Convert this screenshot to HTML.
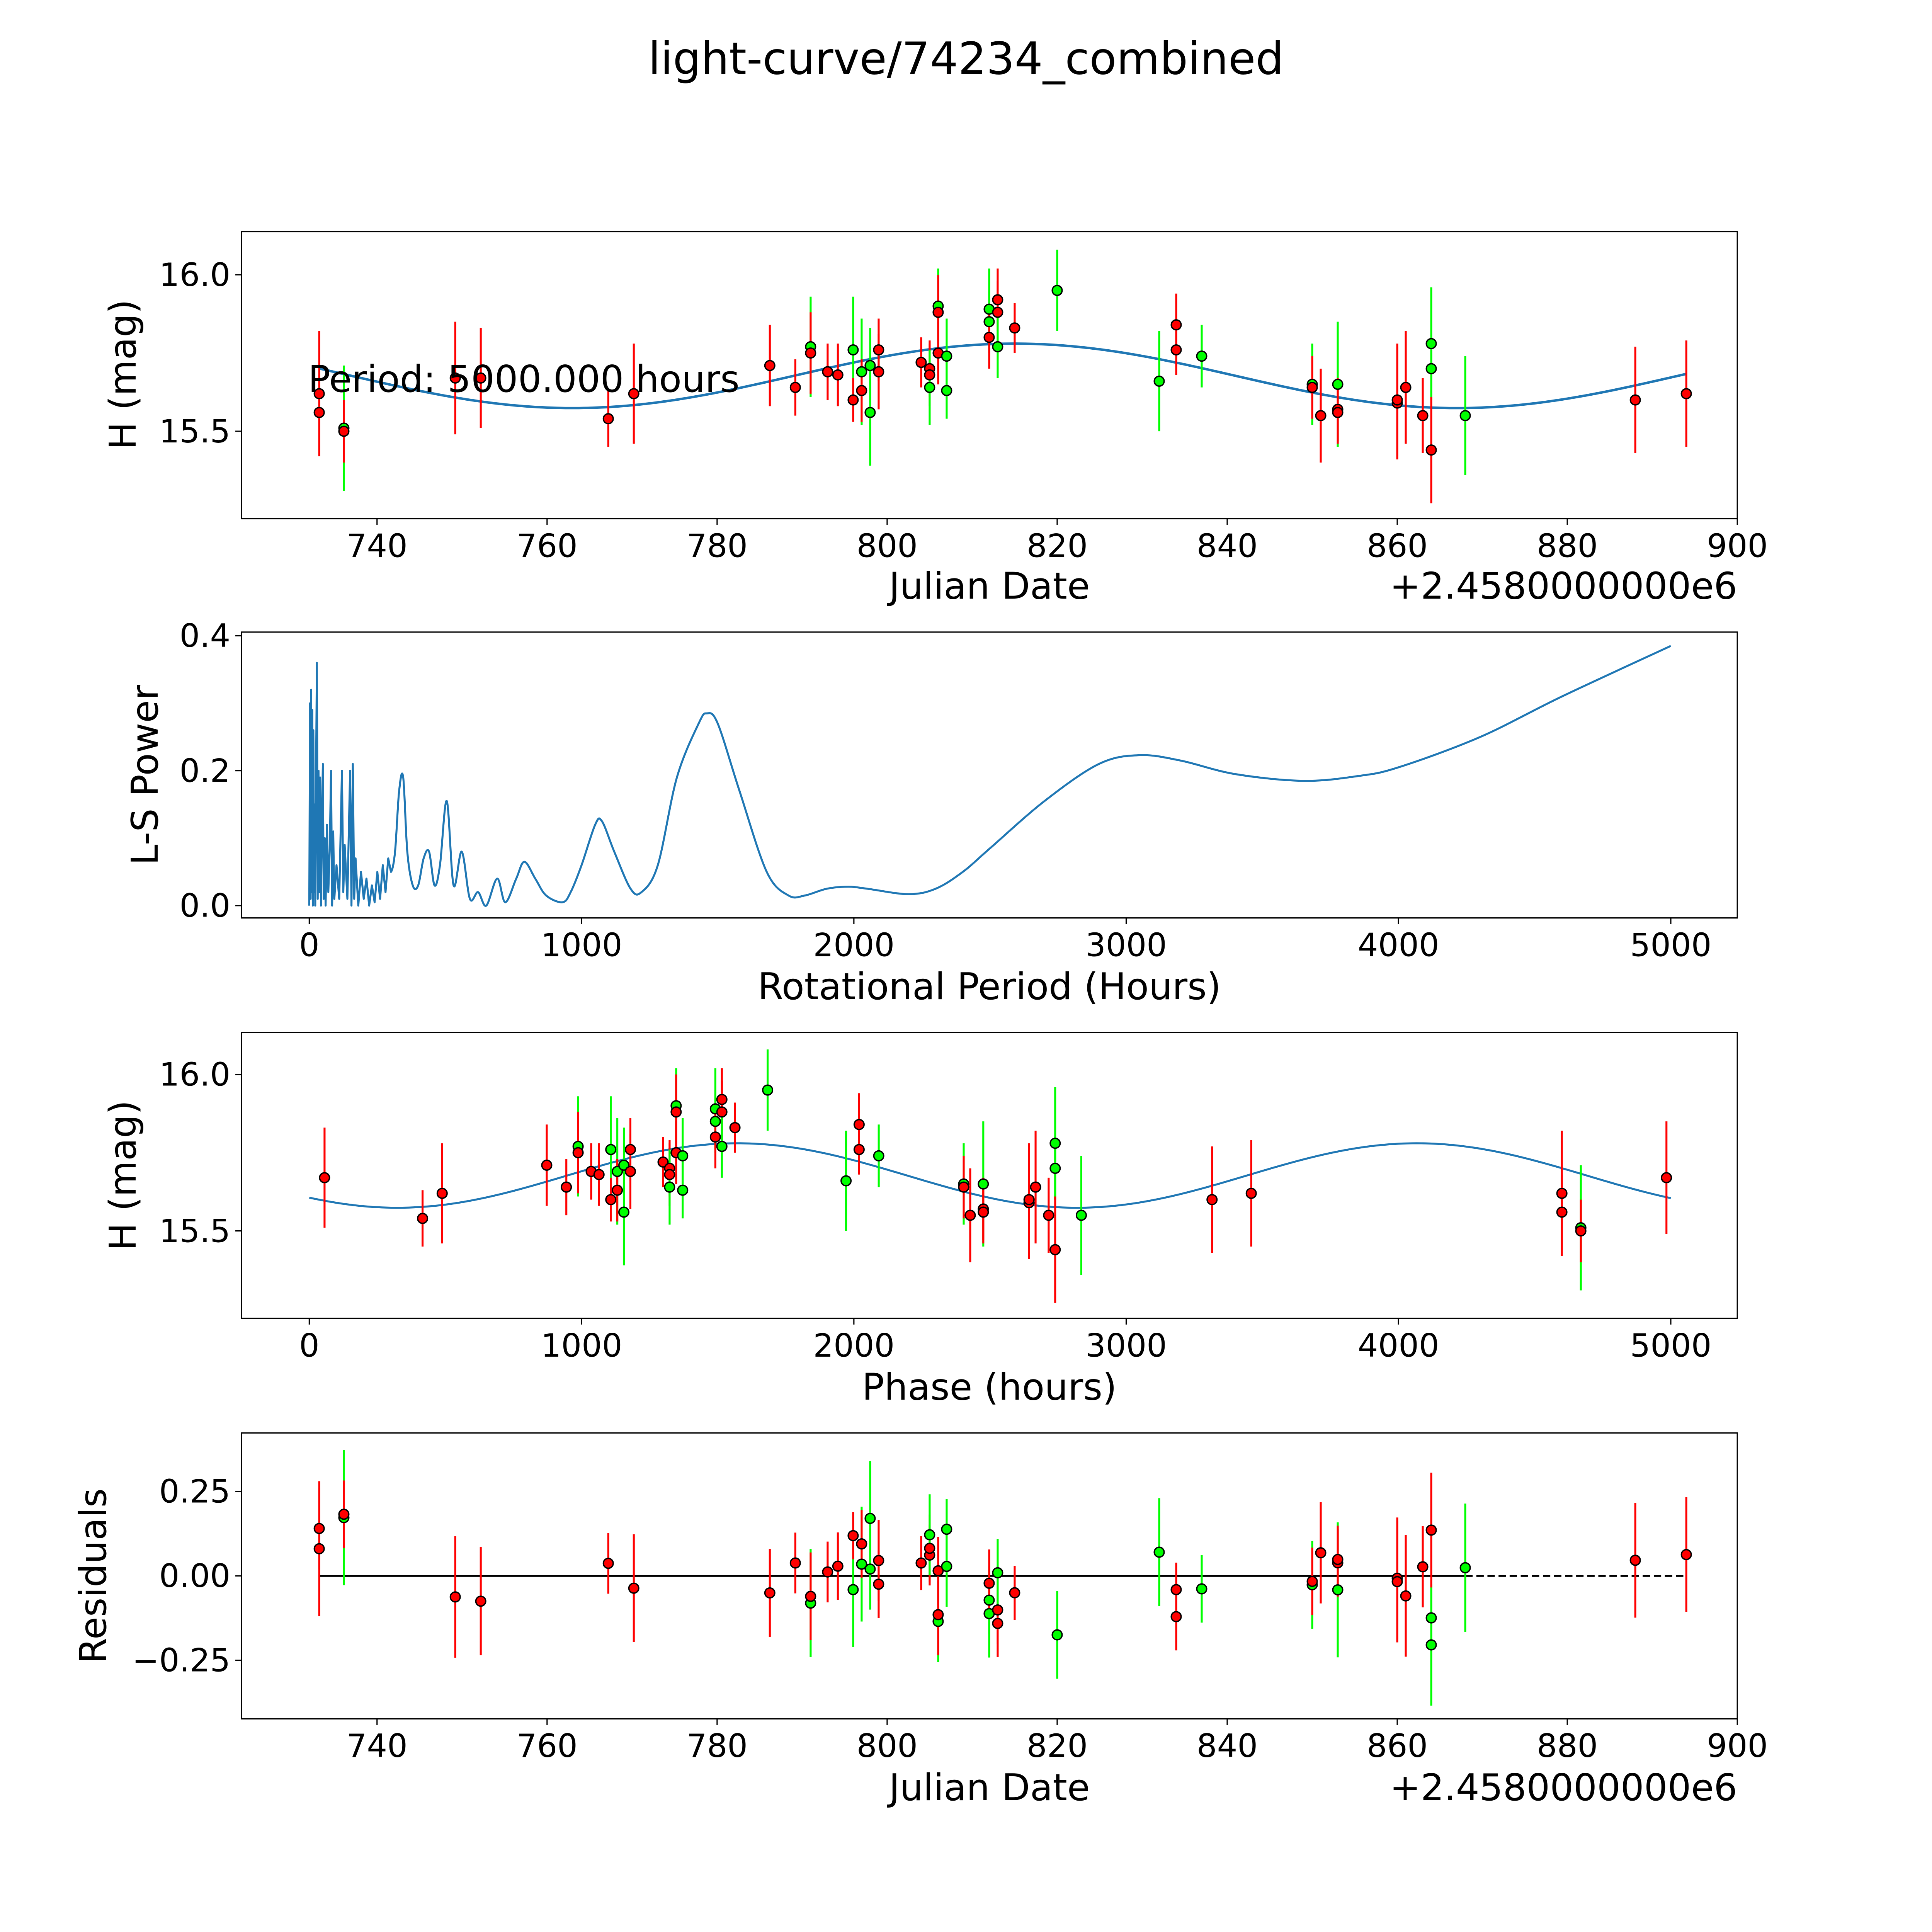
<!DOCTYPE html>
<html><head><meta charset="utf-8">
<style>
html,body{margin:0;padding:0;background:#fff;width:5400px;height:5400px;overflow:hidden;}
svg{display:block;width:100vw;height:100vh;}
text{font-family:"DejaVu Sans","Liberation Sans",sans-serif;fill:#000;}
</style></head>
<body>
<svg id="fig" xmlns="http://www.w3.org/2000/svg" viewBox="0 0 1568 1568" preserveAspectRatio="none">
<rect width="1568" height="1568" fill="#fff"/>
<text x="784" y="60" font-size="36" text-anchor="middle">light-curve/74234_combined</text>
<g id="root"></g>
</svg>
<script>
// ---- data ----
const obsDate = [733.2,733.2,736.1,736.1,749.2,752.2,767.2,770.2,786.2,789.2,791.0,791.0,793.0,794.2,796.0,796.0,797.0,797.0,798.0,798.0,799.0,799.0,804.0,805.0,805.0,805.0,806.0,806.0,806.0,807.0,807.0,812.0,812.0,812.0,813.0,813.0,813.0,815.0,820.0,832.0,834.0,834.0,837.0,850.0,850.0,851.0,853.0,853.0,853.0,860.0,860.0,861.0,863.0,864.0,864.0,864.0,868.0,888.0,894.0];
const obsMag = [15.62,15.56,15.51,15.50,15.67,15.67,15.54,15.62,15.71,15.64,15.77,15.75,15.69,15.68,15.76,15.60,15.69,15.63,15.56,15.71,15.76,15.69,15.72,15.70,15.68,15.64,15.90,15.88,15.75,15.74,15.63,15.89,15.85,15.80,15.92,15.88,15.77,15.83,15.95,15.66,15.84,15.76,15.74,15.65,15.64,15.55,15.65,15.57,15.56,15.59,15.60,15.64,15.55,15.78,15.70,15.44,15.55,15.60,15.62];
const obsErr = [0.2,0.12,0.2,0.1,0.18,0.16,0.09,0.16,0.13,0.09,0.16,0.13,0.09,0.1,0.17,0.07,0.17,0.1,0.17,0.12,0.1,0.12,0.08,0.09,0.1,0.12,0.12,0.12,0.1,0.12,0.09,0.13,0.1,0.1,0.1,0.1,0.1,0.08,0.13,0.16,0.1,0.08,0.1,0.13,0.1,0.15,0.2,0.1,0.1,0.18,0.18,0.18,0.12,0.18,0.1,0.17,0.19,0.17,0.17];
const obsColor = ['r','r','g','r','r','r','r','r','r','r','g','r','r','r','g','r','g','r','g','g','r','r','r','r','r','g','g','r','r','g','g','g','g','r','r','r','g','r','g','g','r','r','g','g','r','r','g','r','r','r','r','r','r','g','g','r','g','r','r'];
const modelMean = 15.677, modelAmp = 0.103, modelPeak = 815, modelPeriodDays = 104;
const phaseT0 = 541.53, foldPeriodHours = 5000;
const lsPeriod = [
0,3,5,7,9,11,13,15,18,20,
22,25,28,31,34,37,40,43,46,50,
53,57,60,65,70,75,80,84,88,92,
100,110,120,125,130,140,150,155,160,165,
170,180,190,200,210,220,230,240,250,260,
270,280,290,300,315,330,345,360,380,400,
420,440,460,480,505,530,560,590,620,650,
690,720,760,790,830,870,930,960,1000,1050,
1075,1120,1180,1220,1280,1350,1430,1460,1500,1580,
1680,1760,1820,1900,1980,2050,2200,2300,2400,2500,
2700,2900,3050,3200,3400,3650,3850,4000,4300,4600,
5000];
const lsPower = [
0,0.30,0.01,0.32,0.02,0.29,0.0,0.26,0.02,0.15,
0.0,0.2,0.36,0.01,0.2,0.02,0.19,0.0,0.12,0.21,
0.01,0.10,0.0,0.12,0.02,0.08,0.20,0.0,0.11,0.01,
0.06,0.01,0.2,0.02,0.09,0.01,0.2,0.0,0.21,0.01,
0.07,0.0,0.05,0.01,0.04,0.0,0.03,0.005,0.05,0.01,
0.06,0.02,0.07,0.05,0.08,0.17,0.19,0.08,0.03,0.03,
0.07,0.08,0.03,0.06,0.155,0.03,0.08,0.01,0.02,0.0,
0.04,0.005,0.04,0.065,0.04,0.015,0.005,0.02,0.06,0.12,
0.125,0.08,0.025,0.02,0.06,0.19,0.27,0.285,0.27,0.17,
0.05,0.015,0.015,0.025,0.028,0.025,0.017,0.025,0.05,0.085,
0.155,0.21,0.223,0.215,0.195,0.185,0.192,0.205,0.25,0.31,
0.385];
const jdTicks = [740,760,780,800,820,840,860,880,900];
const magTicks = [15.5,16.0];
const magTickLabels = ['15.5','16.0'];
const lsTicks = [0.0,0.2,0.4];
const lsTickLabels = ['0.0','0.2','0.4'];
const periodTicks = [0,1000,2000,3000,4000,5000];
const resTicks = [-0.25,0,0.25];
const resTickLabels = ['\u22120.25','0.00','0.25'];

// ---- helpers ----
const NS='http://www.w3.org/2000/svg';
const root=document.getElementById('root');
function el(tag,attrs,parent){const e=document.createElementNS(NS,tag);for(const k in attrs)e.setAttribute(k,attrs[k]);(parent||root).appendChild(e);return e;}
function lin(d0,d1,r0,r1){return v=>r0+(v-d0)*(r1-r0)/(d1-d0);}
function model(jd){return modelMean+modelAmp*Math.cos(2*Math.PI*(jd-modelPeak)/modelPeriodDays);}
const L=196,R=1410;
const xJD=lin(740,900,306,1410);
const xP=lin(0,5000,251,1356);
const col={r:'#ff0000',g:'#00ff00'};
const TICK_FS=26, LABEL_FS=30;

function axesBox(top,bot,name){
  const r=el('rect',{x:L,y:top,width:R-L,height:bot-top,fill:'none',stroke:'#000','stroke-width':1});
  
  
}
function xTicks(ticks,sx,bot,name){
  ticks.forEach(t=>{const x=sx(t);
    el('line',{x1:x,x2:x,y1:bot,y2:bot+5,stroke:'#000','stroke-width':1});
    const tx=el('text',{x:x,y:bot+31,'font-size':TICK_FS,'text-anchor':'middle'});tx.textContent=String(t);
    
    });
}
function yTicks(ticks,labels,sy,name){
  ticks.forEach((t,i)=>{const y=sy(t);
    el('line',{x1:L-5,x2:L,y1:y,y2:y,stroke:'#000','stroke-width':1});
    const tx=el('text',{x:L-9,y:y+9,'font-size':TICK_FS,'text-anchor':'end'});tx.textContent=labels[i];
    
    });
}
function label(txt,x,y,rot,name){
  const t=el('text',{x:x,y:y,'font-size':LABEL_FS,'text-anchor':'middle',transform:rot?`rotate(-90 ${x} ${y})`:''});t.textContent=txt;
  
  
}
function clip(id,top,bot){const c=el('clipPath',{id:id});el('rect',{x:L,y:top,width:R-L,height:bot-top},c);}
function points(xs,ys,errs,sy,name,clipId){
  const g=el('g',{'clip-path':`url(#${clipId})`});
  xs.forEach((x,i)=>{const e=errs[i];
    const ln=el('line',{x1:x,x2:x,y1:sy(ys[i]-e),y2:sy(ys[i]+e),stroke:col[obsColor[i]],'stroke-width':1.6},g);
    
    });
  xs.forEach((x,i)=>{
    const c=el('circle',{cx:x,cy:sy(ys[i]),r:4,fill:col[obsColor[i]],stroke:'#000','stroke-width':1.1},g);
    
    });
}

// ---- panel 1 ----
const y1=lin(15.5,16.0,350,223);
clip('c1',188,421);
const minD=Math.min(...obsDate),maxD=Math.max(...obsDate);
let d='';for(let k=0;k<=300;k++){const jd=minD+(maxD-minD)*k/300;d+=(k?'L':'M')+xJD(jd).toFixed(2)+','+y1(model(jd)).toFixed(2);}
const c1=el('path',{d:d,fill:'none',stroke:'#1f77b4','stroke-width':2,'clip-path':'url(#c1)'});


points(obsDate.map(xJD),obsMag,obsErr,y1,'lightcurve','c1');
const pt=el('text',{x:250,y:318,'font-size':30});pt.textContent='Period: 5000.000 hours';


axesBox(188,421,'lightcurve-axes');
xTicks(jdTicks,xJD,421,'x-tick-label');
yTicks(magTicks,magTickLabels,y1,'y-tick-label');
label('Julian Date',803,486,false,'x-axis-title');
const o1=el('text',{x:1410,y:486,'font-size':LABEL_FS,'text-anchor':'end'});o1.textContent='+2.4580000000e6';


label('H (mag)',110,304,true,'y-axis-title');

// ---- panel 2 ----
const y2=lin(0,0.4,735,516);
clip('c2',513,745);
const P=lsPeriod.map((p,i)=>[xP(p),y2(lsPower[i])]);
let d2='M'+P[0][0].toFixed(2)+','+P[0][1].toFixed(2);
for(let i=1;i<P.length;i++){
  if(lsPeriod[i]<=300){d2+='L'+P[i][0].toFixed(2)+','+P[i][1].toFixed(2);}
  else{
    const p0=P[i-2]||P[i-1],p1=P[i-1],p2=P[i],p3=P[i+1]||P[i];
    const c1x=p1[0]+(p2[0]-p0[0])/6,c1y=p1[1]+(p2[1]-p0[1])/6;
    const c2x=p2[0]-(p3[0]-p1[0])/6,c2y=p2[1]-(p3[1]-p1[1])/6;
    d2+='C'+c1x.toFixed(2)+','+c1y.toFixed(2)+' '+c2x.toFixed(2)+','+c2y.toFixed(2)+' '+p2[0].toFixed(2)+','+p2[1].toFixed(2);
  }
}
const c2=el('path',{d:d2,fill:'none',stroke:'#1f77b4','stroke-width':1.6,'stroke-linejoin':'round','clip-path':'url(#c2)'});


axesBox(513,745,'periodogram-axes');
xTicks(periodTicks,xP,745,'x-tick-label');
yTicks(lsTicks,lsTickLabels,y2,'y-tick-label');
label('Rotational Period (Hours)',803,811,false,'x-axis-title');
label('L-S Power',128,629,true,'y-axis-title');

// ---- panel 3 ----
const y3=lin(15.5,16.0,999,872);
clip('c3',838,1070);
let d3='';for(let k=0;k<=300;k++){const ph=foldPeriodHours*k/300;d3+=(k?'L':'M')+xP(ph).toFixed(2)+','+y3(model(phaseT0+ph/24)).toFixed(2);}
const c3=el('path',{d:d3,fill:'none',stroke:'#1f77b4','stroke-width':1.6,'clip-path':'url(#c3)'});


points(obsDate.map(j=>xP((((j-phaseT0)*24)%foldPeriodHours+foldPeriodHours)%foldPeriodHours)),obsMag,obsErr,y3,'phased','c3');
axesBox(838,1070,'phase-axes');
xTicks(periodTicks,xP,1070,'x-tick-label');
yTicks(magTicks,magTickLabels,y3,'y-tick-label');
label('Phase (hours)',803,1136,false,'x-axis-title');
label('H (mag)',110,954,true,'y-axis-title');

// ---- panel 4 ----
const y4=lin(0,0.25,1279,1210.5);
clip('c4',1163,1395);
const solidEnd=868;
const z1=el('line',{x1:xJD(minD),x2:xJD(solidEnd),y1:y4(0),y2:y4(0),stroke:'#000','stroke-width':1.5});


const z2=el('line',{x1:xJD(solidEnd),x2:xJD(maxD),y1:y4(0),y2:y4(0),stroke:'#000','stroke-width':1.5,'stroke-dasharray':'6,3'});


points(obsDate.map(xJD),obsMag.map((m,i)=>model(obsDate[i])-m),obsErr,y4,'residual','c4');
axesBox(1163,1395,'residuals-axes');
xTicks(jdTicks,xJD,1395,'x-tick-label');
yTicks(resTicks,resTickLabels,y4,'y-tick-label');
label('Julian Date',803,1461,false,'x-axis-title');
const o4=el('text',{x:1410,y:1461,'font-size':LABEL_FS,'text-anchor':'end'});o4.textContent='+2.4580000000e6';


label('Residuals',86,1279,true,'y-axis-title');
</script>
</body></html>
